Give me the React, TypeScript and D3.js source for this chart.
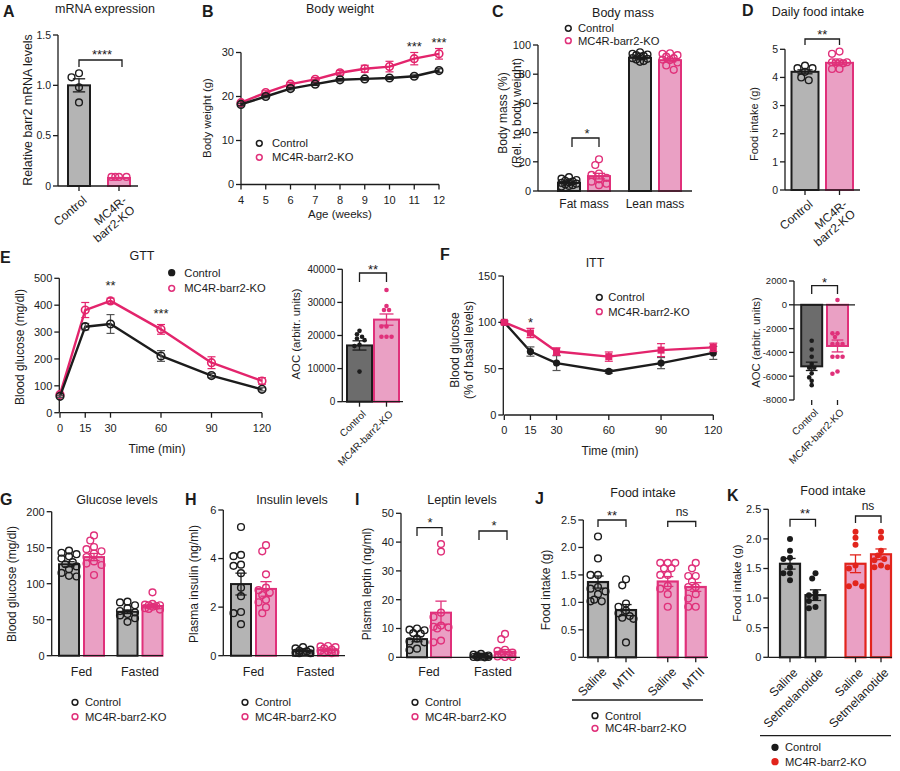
import * as d3 from "d3";

const FONT = "'Liberation Sans', Arial, Helvetica, sans-serif";
const INK = "#1c1c1c";
const GREY = "#b4b4b4";
const DARK = "#6c6c6c";
const PINK = "#e0307a";
const PINK_FILL = "#eaa0c4";
const PINK_LINE = "#e3246c";
const RED = "#e2241c";

const groupNames = ["Control", "MC4R-barr2-KO"];

// A: barr2 mRNA
const aTicks = [0, 0.5, 1.0, 1.5];
const aMean = [1.0, 0.08];
const aSem = [0.065, 0.004];
const aCtrlDots = [1.12, 1.08, 0.98, 0.83];
const aKoDots = [0.09, 0.09, 0.09, 0.09];

// B: body weight by week
const bWeeks = [4, 5, 6, 7, 8, 9, 10, 11, 12];
const bTicks = [0, 10, 20, 30];
const bCtrl = [18.2, 20.0, 21.8, 22.8, 23.8, 24.0, 24.2, 24.6, 25.9];
const bCtrlSem = [0.3, 0.3, 0.3, 0.3, 0.3, 0.3, 0.3, 0.3, 0.4];
const bKo = [18.6, 20.9, 22.8, 23.9, 25.4, 26.3, 26.8, 28.6, 29.7];
const bKoSem = [0.3, 0.4, 0.4, 0.4, 0.5, 0.8, 1.2, 1.4, 1.2];
const bStarWeeks = [11, 12];

// C: body composition
const cGroups = ["Fat mass", "Lean mass"];
const cTicks = [0, 20, 40, 60, 80, 100];
const cCtrlMean = [5.6, 91.2];
const cCtrlSem = [0.5, 0.6];
const cKoMean = [10.2, 89.6];
const cKoSem = [1.9, 1.2];
const cCtrlDots = [
  [9.5, 8.5, 7.5, 7, 6.5, 6, 5.5, 5, 4.5, 4, 3.5, 3],
  [95, 94, 93.5, 93, 92.5, 92, 91, 90.5, 90, 89, 88.5],
];
const cKoDots = [
  [21.7, 17.8, 12, 11, 9, 8, 6.4, 5, 4],
  [94.3, 94, 93, 92, 91, 90, 89.7, 88, 86, 83],
];

// D: daily food intake
const dTicks = [0, 1, 2, 3, 4, 5];
const dMean = [4.2, 4.52];
const dSem = [0.07, 0.07];
const dCtrlDots = [4.42, 4.33, 4.33, 4.2, 4.0, 3.9];
const dKoDots = [4.92, 4.84, 4.54, 4.54, 4.54, 4.54, 4.5, 4.3, 4.3];

// E: GTT
const gttTimes = [0, 15, 30, 60, 90, 120];
const gttTicks = [0, 100, 200, 300, 400, 500];
const gttCtrl = [61, 320, 330, 211, 138, 87];
const gttCtrlSem = [4, 12, 35, 20, 8, 6];
const gttKo = [68, 382, 416, 310, 186, 118];
const gttKoSem = [4, 28, 10, 18, 22, 12];
const gttStars = [
  { t: 30, label: "**" },
  { t: 60, label: "***" },
];
const eAocTicks = [0, 10000, 20000, 30000, 40000];
const eAocMean = [17000, 24800];
const eAocSem = [1400, 1700];
const eAocCtrlDots = [21400, 20400, 19600, 19100, 18600, 17200, 16800, 9100];
const eAocKoDots = [33750, 28900, 27700, 27700, 22700, 22700, 19600, 19600, 19600];

// F: ITT
const ittTicks = [0, 50, 100, 150];
const ittCtrl = [100, 68.5, 56, 47, 56, 67];
const ittCtrlSem = [1.5, 5, 8, 2, 6, 7];
const ittKo = [100, 88.5, 68.5, 63, 70, 73];
const ittKoSem = [1.5, 5, 4, 5, 7, 4.5];
const fAocTicks = [-8000, -6000, -4000, -2000, 0, 2000];
const fAocMean = [-5170, -3460];
const fAocSem = [350, 500];
const fAocCtrlDots = [-3025, -3750, -4370, -4980, -5290, -5290, -5760, -6100, -6390, -6750];
const fAocKoDots = [400, -2400, -2400, -2700, -3300, -3300, -3300, -4370, -4370, -4370, -5600, -5800];

// G, H, I: fed / fasted
const fedGroups = ["Fed", "Fasted"];
const gTicks = [0, 50, 100, 150, 200];
const gCtrlMean = [127, 61];
const gCtrlSem = [3.5, 2.5];
const gKoMean = [137, 69];
const gKoSem = [5, 2];
const gCtrlDots = [
  [146, 143, 141, 138, 135, 130, 127, 124, 120, 115, 111, 110],
  [75, 74, 70, 66, 62, 60, 58, 56, 52, 47],
];
const gKoDots = [
  [167, 160, 151, 148, 145, 142, 137, 131, 128, 126, 112],
  [88, 72, 71, 70, 70, 69, 68, 66, 65, 64],
];

const hTicks = [0, 2, 4, 6];
const hCtrlMean = [2.95, 0.19];
const hCtrlSem = [0.45, 0.03];
const hKoMean = [2.75, 0.24];
const hKoSem = [0.3, 0.03];
const hCtrlDots = [
  [5.3, 4.15, 4.1, 3.75, 3.7, 3.4, 2.8, 2.45, 1.8, 1.75, 1.3],
  [0.35, 0.3, 0.25, 0.2, 0.18, 0.15, 0.12, 0.1, 0.1],
];
const hKoDots = [
  [4.55, 4.3, 3.35, 2.8, 2.7, 2.6, 2.5, 2.3, 2.2, 2.0, 1.75],
  [0.4, 0.38, 0.35, 0.3, 0.25, 0.2, 0.18, 0.15, 0.12, 0.1],
];

const iTicks = [0, 10, 20, 30, 40, 50];
const iCtrlMean = [6.3, 0.4];
const iCtrlSem = [0.9, 0.1];
const iKoMean = [15.5, 1.9];
const iKoSem = [4.0, 0.8];
const iCtrlDots = [
  [10, 9.6, 9.4, 8.4, 8.2, 6.5, 5.5, 5.2, 3, 2.5],
  [1.2, 0.9, 0.6, 0.5, 0.3, 0.2, 0.1, 0.1, 0.05, 0],
];
const iKoDots = [
  [39.3, 36.7, 15.5, 14, 11, 10.6, 10.4, 10, 5.8, 5.2],
  [8.1, 6.3, 2.6, 2.2, 1.6, 1.2, 0.8, 0.3, 0.1, 0.1],
];

// J, K: acute food intake
const intakeTicks = [0, 0.5, 1.0, 1.5, 2.0, 2.5];
const jTreat = ["Saline", "MTII"];
const jCtrlMean = [1.37, 0.86];
const jCtrlSem = [0.11, 0.1];
const jKoMean = [1.38, 1.28];
const jKoSem = [0.09, 0.08];
const jCtrlDots = [
  [2.2, 1.8, 1.5, 1.5, 1.28, 1.25, 1.2, 1.15, 1.05, 1.02, 1.02],
  [1.42, 1.31, 0.98, 0.92, 0.85, 0.8, 0.75, 0.72, 0.7, 0.27],
];
const jKoDots = [
  [1.72, 1.72, 1.72, 1.62, 1.62, 1.5, 1.5, 1.3, 1.25, 1.15, 0.92],
  [1.72, 1.62, 1.48, 1.48, 1.38, 1.28, 1.28, 1.15, 1.07, 0.92, 0.92],
];

const kTreat = ["Saline", "Setmelanotide"];
const kCtrlMean = [1.58, 1.05];
const kCtrlSem = [0.09, 0.09];
const kKoMean = [1.58, 1.74];
const kKoSem = [0.15, 0.09];
const kCtrlDots = [
  [2.0, 1.8, 1.68, 1.66, 1.52, 1.42, 1.42, 1.3],
  [1.42, 1.33, 1.1, 1.05, 1.0, 0.95, 0.85, 0.83],
];
const kKoDots = [
  [2.12, 2.02, 1.9, 1.55, 1.5, 1.25, 1.2, 1.2],
  [2.12, 2.02, 1.8, 1.72, 1.66, 1.64, 1.55, 1.52, 1.52],
];

type Scale = d3.ScaleLinear<number, number>;
type Look = { fill: string; edge: string; dot: string; solid: boolean; r: number };

const CTRL: Look = { fill: GREY, edge: INK, dot: INK, solid: false, r: 3.4 };
const KO: Look = { fill: PINK_FILL, edge: PINK, dot: PINK, solid: false, r: 3.4 };
const CTRL_DARK: Look = { fill: DARK, edge: INK, dot: INK, solid: true, r: 2.3 };
const KO_SMALL: Look = { fill: PINK_FILL, edge: PINK, dot: PINK, solid: true, r: 2.3 };
const CTRL_SOLID: Look = { fill: GREY, edge: INK, dot: INK, solid: true, r: 3 };
const KO_RED: Look = { fill: PINK_FILL, edge: RED, dot: RED, solid: true, r: 3 };

const f1 = (v: number) => (v === 0 ? "0" : v.toFixed(1));

// spread points sideways so they don't sit on top of each other
function swarm(vals: number[], y: Scale, r: number, half: number): number[] {
  const placed: [number, number][] = [];
  const step = r * 1.1;
  const cands = [0];
  for (let k = 1; k * step <= half + 0.01; k++) cands.push(-k * step, k * step);
  return vals.map((v) => {
    const py = y(v);
    let best = 0;
    let bestD = -1;
    for (const c of cands) {
      let dmin = Infinity;
      for (const [px, qy] of placed) dmin = Math.min(dmin, Math.hypot(px - c, qy - py));
      if (dmin >= 2 * r * 0.9) {
        best = c;
        break;
      }
      if (dmin > bestD) {
        bestD = dmin;
        best = c;
      }
    }
    placed.push([best, py]);
    return best;
  });
}

function Letter({ x, y, t }: { x: number; y: number; t: string }) {
  return (
    <text x={x} y={y + 5.7} fontSize={16} fontWeight="bold">
      {t}
    </text>
  );
}

function Title({ x, y, t }: { x: number; y: number; t: string }) {
  return (
    <text x={x} y={y} dy="0.35em" textAnchor="middle" fontSize={12.5}>
      {t}
    </text>
  );
}

function YLabel({ x, y, lines, fs = 12 }: { x: number; y: number; lines: string[]; fs?: number }) {
  const off = ((lines.length - 1) / 2) * 1.15;
  return (
    <text transform={`translate(${x},${y}) rotate(-90)`} textAnchor="middle" fontSize={fs}>
      {lines.map((l, i) => (
        <tspan key={i} x={0} dy={i === 0 ? `${0.35 - off}em` : "1.15em"}>
          {l}
        </tspan>
      ))}
    </text>
  );
}

function Star({ x, y, t, fs = 13 }: { x: number; y: number; t: string; fs?: number }) {
  return (
    <text x={x} y={y + 0.56 * fs} textAnchor="middle" fontSize={fs}>
      {t}
    </text>
  );
}

function NS({ x, y }: { x: number; y: number }) {
  return (
    <text x={x} y={y + 3.4} textAnchor="middle" fontSize={12}>
      ns
    </text>
  );
}

function Bracket({ x1, x2, top, bottom }: { x1: number; x2: number; top: number; bottom: number }) {
  return <path d={`M${x1},${bottom}V${top}H${x2}V${bottom}`} fill="none" stroke={INK} strokeWidth={1.3} />;
}

function YAxis({ x, y, ticks, fmt = (v: number) => String(v), fs = 10.5 }: { x: number; y: Scale; ticks: number[]; fmt?: (v: number) => string; fs?: number }) {
  const [d0, d1] = y.domain();
  return (
    <g>
      <line x1={x} x2={x} y1={y(d0)} y2={y(d1)} stroke={INK} strokeWidth={1.3} />
      {ticks.map((t) => (
        <g key={t}>
          <line x1={x - 5} x2={x} y1={y(t)} y2={y(t)} stroke={INK} strokeWidth={1.3} />
          <text x={x - 7} y={y(t)} dy="0.35em" textAnchor="end" fontSize={fs}>
            {fmt(t)}
          </text>
        </g>
      ))}
    </g>
  );
}

function HLine({ x1, x2, y }: { x1: number; x2: number; y: number }) {
  return <line x1={x1} x2={x2} y1={y} y2={y} stroke={INK} strokeWidth={1.3} />;
}

function XTicks({ xs, y }: { xs: number[]; y: number }) {
  return (
    <g stroke={INK} strokeWidth={1.3}>
      {xs.map((x, i) => (
        <line key={i} x1={x} x2={x} y1={y} y2={y + 5} />
      ))}
    </g>
  );
}

function XAxis({ x, y0, ticks }: { x: Scale; y0: number; ticks: number[] }) {
  const [d0, d1] = x.domain();
  return (
    <g>
      <line x1={x(d0)} x2={x(d1)} y1={y0} y2={y0} stroke={INK} strokeWidth={1.3} />
      {ticks.map((t) => (
        <g key={t}>
          <line x1={x(t)} x2={x(t)} y1={y0} y2={y0 + 5} stroke={INK} strokeWidth={1.3} />
          <text x={x(t)} y={y0 + 19} textAnchor="middle" fontSize={11}>
            {t}
          </text>
        </g>
      ))}
    </g>
  );
}

function RotLabel({ x, y, lines, angle = -40, fs = 12 }: { x: number; y: number; lines: string[]; angle?: number; fs?: number }) {
  return (
    <text transform={`translate(${x},${y}) rotate(${angle})`} textAnchor="end" fontSize={fs}>
      {lines.map((l, i) => (
        <tspan key={i} x={0} dy={i === 0 ? "0.72em" : "1.05em"}>
          {l}
        </tspan>
      ))}
    </text>
  );
}

type LegendItem = { label: string; color: string; solid: boolean };

function Legend({ x, y, gap, dx, items }: { x: number; y: number; gap: number; dx: number; items: LegendItem[] }) {
  return (
    <g>
      {items.map((it, i) => (
        <g key={i}>
          <circle cx={x} cy={y + i * gap} r={2.9} fill={it.solid ? it.color : "#fff"} stroke={it.color} strokeWidth={1.5} />
          <text x={x + dx} y={y + i * gap} dy="0.35em" fontSize={11.2}>
            {it.label}
          </text>
        </g>
      ))}
    </g>
  );
}

const openItems: LegendItem[] = [
  { label: groupNames[0], color: INK, solid: false },
  { label: groupNames[1], color: PINK, solid: false },
];

function BarMark({ cx, w, y, mean, sem, dots, look, sw = 2 }: { cx: number; w: number; y: Scale; mean: number; sem: number; dots: number[]; look: Look; sw?: number }) {
  const base = y(0);
  const top = y(mean);
  const offs = swarm(dots, y, look.r, w / 2 - 1);
  const cap = w * 0.28;
  return (
    <g>
      <rect x={cx - w / 2} y={Math.min(base, top)} width={w} height={Math.abs(base - top)} fill={look.fill} stroke={look.edge} strokeWidth={sw} />
      {dots.map((v, i) => (
        <circle
          key={i}
          cx={cx + offs[i]}
          cy={y(v)}
          r={look.r}
          fill={look.solid ? look.dot : "none"}
          stroke={look.solid ? "none" : look.dot}
          strokeWidth={1.4}
        />
      ))}
      <g stroke={look.edge} strokeWidth={1.3}>
        <line x1={cx} x2={cx} y1={y(mean - sem)} y2={y(mean + sem)} />
        <line x1={cx - cap} x2={cx + cap} y1={y(mean + sem)} y2={y(mean + sem)} />
        <line x1={cx - cap} x2={cx + cap} y1={y(mean - sem)} y2={y(mean - sem)} />
      </g>
    </g>
  );
}

function Series({ x, y, xs, ys, sem, color, errColor, marker }: { x: Scale; y: Scale; xs: number[]; ys: number[]; sem: number[]; color: string; errColor: string; marker: string }) {
  const path = d3
    .line<number>()
    .x((_, i) => x(xs[i]))
    .y((v) => y(v))(ys) ?? "";
  return (
    <g>
      <path d={path} fill="none" stroke={color} strokeWidth={2.4} strokeLinejoin="round" />
      <g stroke={errColor} strokeWidth={1.2}>
        {ys.map((v, i) => (
          <g key={i}>
            <line x1={x(xs[i])} x2={x(xs[i])} y1={y(v - sem[i])} y2={y(v + sem[i])} />
            <line x1={x(xs[i]) - 4} x2={x(xs[i]) + 4} y1={y(v + sem[i])} y2={y(v + sem[i])} />
            <line x1={x(xs[i]) - 4} x2={x(xs[i]) + 4} y1={y(v - sem[i])} y2={y(v - sem[i])} />
          </g>
        ))}
      </g>
      {ys.map((v, i) =>
        marker === "square" ? (
          <rect key={i} x={x(xs[i]) - 3.5} y={y(v) - 3.5} width={7} height={7} fill={color} />
        ) : marker === "dot" ? (
          <circle key={i} cx={x(xs[i])} cy={y(v)} r={3.6} fill={color} />
        ) : (
          <circle key={i} cx={x(xs[i])} cy={y(v)} r={3.8} fill="none" stroke={color} strokeWidth={1.6} />
        )
      )}
    </g>
  );
}

function PanelA() {
  const y = d3.scaleLinear().domain([0, 1.5]).range([186, 35]);
  const x = d3.scalePoint<string>().domain(groupNames).range([79, 119]);
  const x0 = x(groupNames[0])!;
  const x1 = x(groupNames[1])!;
  return (
    <g>
      <Letter x={3} y={11} t="A" />
      <Title x={105} y={9} t="mRNA expression" />
      <YLabel x={28} y={110} lines={["Relative barr2 mRNA levels"]} fs={12.4} />
      <BarMark cx={x0} w={22} y={y} mean={aMean[0]} sem={aSem[0]} dots={aCtrlDots} look={CTRL} />
      <BarMark cx={x1} w={22} y={y} mean={aMean[1]} sem={aSem[1]} dots={aKoDots} look={KO} />
      <YAxis x={58} y={y} ticks={aTicks} fmt={f1} />
      <HLine x1={58} x2={138} y={y(0)} />
      <XTicks xs={[x0, x1]} y={y(0)} />
      <RotLabel x={x0 + 3} y={y(0) + 9} lines={["Control"]} />
      <RotLabel x={x1 + 3} y={y(0) + 9} lines={["MC4R-", "barr2-KO"]} />
      <Bracket x1={x0} x2={x1 + 3} top={60} bottom={67} />
      <Star x={102} y={52} t="****" />
    </g>
  );
}

function PanelB() {
  const x = d3.scaleLinear().domain([4, 12]).range([241, 439]);
  const y = d3.scaleLinear().domain([0, 30]).range([184.5, 52.5]);
  return (
    <g>
      <Letter x={202} y={11} t="B" />
      <Title x={340} y={9} t="Body weight" />
      <YLabel x={207} y={118} lines={["Body weight (g)"]} fs={11.5} />
      <YAxis x={x(4)} y={y} ticks={bTicks} fs={11} />
      <XAxis x={x} y0={y(0)} ticks={bWeeks} />
      <text x={340} y={217.5} textAnchor="middle" fontSize={11.5}>
        Age (weeks)
      </text>
      <Series x={x} y={y} xs={bWeeks} ys={bKo} sem={bKoSem} color={PINK_LINE} errColor={PINK_LINE} marker="open" />
      <Series x={x} y={y} xs={bWeeks} ys={bCtrl} sem={bCtrlSem} color={INK} errColor={INK} marker="open" />
      {bStarWeeks.map((w) => {
        const i = bWeeks.indexOf(w);
        return <Star key={w} x={x(w)} y={y(bKo[i] + bKoSem[i]) - 9} t="***" />;
      })}
      <Legend x={259.3} y={143.3} gap={14} dx={12.7} items={openItems} />
    </g>
  );
}

function PanelC() {
  const y = d3.scaleLinear().domain([0, 100]).range([191, 45]);
  const g = d3.scalePoint<string>().domain(cGroups).range([584, 655]);
  return (
    <g>
      <Letter x={492} y={11} t="C" />
      <Title x={623} y={13} t="Body mass" />
      <Legend x={568.3} y={28.3} gap={12.4} dx={9.7} items={openItems} />
      <YLabel x={510} y={113} lines={["Body mass (%)", "(Rel. to body weight)"]} fs={12} />
      {cGroups.map((k, i) => (
        <g key={k}>
          <BarMark cx={g(k)! - 15} w={22} y={y} mean={cCtrlMean[i]} sem={cCtrlSem[i]} dots={cCtrlDots[i]} look={CTRL} />
          <BarMark cx={g(k)! + 15} w={22} y={y} mean={cKoMean[i]} sem={cKoSem[i]} dots={cKoDots[i]} look={KO} />
          <text x={g(k)!} y={207.5} textAnchor="middle" fontSize={12}>
            {k}
          </text>
        </g>
      ))}
      <YAxis x={538} y={y} ticks={cTicks} fs={11} />
      <HLine x1={538} x2={692} y={y(0)} />
      <Bracket x1={g(cGroups[0])! - 12} x2={g(cGroups[0])! + 15} top={138} bottom={147} />
      <Star x={587} y={131} t="*" />
    </g>
  );
}

function PanelD() {
  const y = d3.scaleLinear().domain([0, 5]).range([190, 49.3]);
  const x = d3.scalePoint<string>().domain(groupNames).range([805, 839.5]);
  const x0 = x(groupNames[0])!;
  const x1 = x(groupNames[1])!;
  return (
    <g>
      <Letter x={742} y={10} t="D" />
      <Title x={818} y={12} t="Daily food intake" />
      <YLabel x={754} y={124} lines={["Food intake (g)"]} fs={11} />
      <BarMark cx={x0} w={27} y={y} mean={dMean[0]} sem={dSem[0]} dots={dCtrlDots} look={CTRL} />
      <BarMark cx={x1} w={27} y={y} mean={dMean[1]} sem={dSem[1]} dots={dKoDots} look={KO} />
      <YAxis x={785} y={y} ticks={dTicks} fs={10.5} />
      <HLine x1={785} x2={860} y={y(0)} />
      <XTicks xs={[x0, x1]} y={y(0)} />
      <RotLabel x={x0 + 3} y={y(0) + 9} lines={["Control"]} />
      <RotLabel x={x1 + 3} y={y(0) + 9} lines={["MC4R-", "barr2-KO"]} />
      <Bracket x1={x0} x2={x1} top={39} bottom={45} />
      <Star x={(x0 + x1) / 2} y={32} t="**" />
    </g>
  );
}

function PanelE() {
  const x = d3.scaleLinear().domain([0, 120]).range([60, 262]);
  const y = d3.scaleLinear().domain([0, 500]).range([412.7, 278.3]);
  const ya = d3.scaleLinear().domain([0, 40000]).range([401.7, 269.3]);
  const xa = d3.scalePoint<string>().domain(groupNames).range([359.5, 386.5]);
  const a0 = xa(groupNames[0])!;
  const a1 = xa(groupNames[1])!;
  return (
    <g>
      <Letter x={0} y={257} t="E" />
      <Title x={142} y={256} t="GTT" />
      <YLabel x={20} y={347} lines={["Blood glucose (mg/dl)"]} fs={12} />
      <YAxis x={x(0) - 0.7} y={y} ticks={gttTicks} fs={11} />
      <XAxis x={x} y0={y(0)} ticks={gttTimes} />
      <text x={157} y={452.6} textAnchor="middle" fontSize={12}>
        Time (min)
      </text>
      <Series x={x} y={y} xs={gttTimes} ys={gttKo} sem={gttKoSem} color={PINK_LINE} errColor={PINK_LINE} marker="open" />
      <Series x={x} y={y} xs={gttTimes} ys={gttCtrl} sem={gttCtrlSem} color={INK} errColor="#555" marker="open" />
      {gttStars.map((s) => {
        const i = gttTimes.indexOf(s.t);
        return <Star key={s.t} x={x(s.t)} y={y(gttKo[i] + gttKoSem[i]) - (s.t === 30 ? 15 : 14)} t={s.label} />;
      })}
      <Legend
        x={171.7}
        y={272.7}
        gap={15.6}
        dx={12.6}
        items={[
          { label: groupNames[0], color: INK, solid: true },
          { label: groupNames[1], color: PINK, solid: false },
        ]}
      />

      <YLabel x={296} y={334} lines={["AOC (arbitr. units)"]} fs={11.4} />
      <BarMark cx={a0} w={25} y={ya} mean={eAocMean[0]} sem={eAocSem[0]} dots={eAocCtrlDots} look={CTRL_DARK} />
      <BarMark cx={a1} w={25} y={ya} mean={eAocMean[1]} sem={eAocSem[1]} dots={eAocKoDots} look={KO_SMALL} />
      <YAxis x={342.3} y={ya} ticks={eAocTicks} fs={10} />
      <HLine x1={342.3} x2={403} y={ya(0)} />
      <XTicks xs={[a0, a1]} y={ya(0)} />
      <RotLabel x={a0 + 2} y={ya(0) + 8} lines={[groupNames[0]]} angle={-45} fs={10} />
      <RotLabel x={a1 + 2} y={ya(0) + 8} lines={[groupNames[1]]} angle={-45} fs={10} />
      <Bracket x1={a0} x2={a1} top={273} bottom={282} />
      <Star x={(a0 + a1) / 2} y={267} t="**" />
    </g>
  );
}

function PanelF() {
  const x = d3.scaleLinear().domain([0, 120]).range([504.3, 713.3]);
  const y = d3.scaleLinear().domain([0, 150]).range([415, 276]);
  const ya = d3.scaleLinear().domain([-8000, 2000]).range([400, 281]);
  const xa = d3.scalePoint<string>().domain(groupNames).range([811.7, 837.5]);
  const a0 = xa(groupNames[0])!;
  const a1 = xa(groupNames[1])!;
  return (
    <g>
      <Letter x={440} y={254.5} t="F" />
      <Title x={595} y={263} t="ITT" />
      <YLabel x={462} y={350} lines={["Blood glucose", "(% of basal levels)"]} fs={12} />
      <YAxis x={x(0) - 1} y={y} ticks={ittTicks} fs={11} />
      <XAxis x={x} y0={y(0)} ticks={gttTimes} />
      <text x={610} y={455} textAnchor="middle" fontSize={12}>
        Time (min)
      </text>
      <Series x={x} y={y} xs={gttTimes} ys={ittCtrl} sem={ittCtrlSem} color={INK} errColor="#555" marker="dot" />
      <Series x={x} y={y} xs={gttTimes} ys={ittKo} sem={ittKoSem} color={PINK_LINE} errColor={PINK_LINE} marker="square" />
      <Star x={x(15)} y={319.5} t="*" />
      <Legend x={599.3} y={297.3} gap={14.4} dx={9} items={openItems} />

      <YLabel x={756} y={342.5} lines={["AOC (arbitr. units)"]} fs={11.3} />
      <BarMark cx={a0} w={21} y={ya} mean={fAocMean[0]} sem={fAocSem[0]} dots={fAocCtrlDots} look={CTRL_DARK} />
      <BarMark cx={a1} w={21} y={ya} mean={fAocMean[1]} sem={fAocSem[1]} dots={fAocKoDots} look={KO_SMALL} />
      <YAxis x={794} y={ya} ticks={fAocTicks} fs={9.5} />
      <HLine x1={794} x2={855} y={ya(0)} />
      <XTicks xs={[a0, a1]} y={ya(-8000)} />
      <RotLabel x={a0 + 2} y={ya(-8000) + 8} lines={[groupNames[0]]} angle={-45} fs={10} />
      <RotLabel x={a1 + 2} y={ya(-8000) + 8} lines={[groupNames[1]]} angle={-45} fs={10} />
      <Bracket x1={a0} x2={a1} top={285.7} bottom={294} />
      <Star x={(a0 + a1) / 2} y={279.5} t="*" />
    </g>
  );
}

type FedProps = {
  letter: string;
  lx: number;
  title: string;
  tx: number;
  ylabel: string;
  ylx: number;
  y: Scale;
  ticks: number[];
  axisX: number;
  axisEnd: number;
  centers: [number, number];
  off: number;
  ctrlMean: number[];
  ctrlSem: number[];
  koMean: number[];
  koSem: number[];
  ctrlDots: number[][];
  koDots: number[][];
  legX: number;
};

function FedPanel(p: FedProps) {
  const g = d3.scalePoint<string>().domain(fedGroups).range(p.centers);
  return (
    <g>
      <Letter x={p.lx} y={499} t={p.letter} />
      <Title x={p.tx} y={500} t={p.title} />
      <YLabel x={p.ylx} y={584} lines={[p.ylabel]} fs={12} />
      {fedGroups.map((k, i) => (
        <g key={k}>
          <BarMark cx={g(k)! - p.off} w={20} y={p.y} mean={p.ctrlMean[i]} sem={p.ctrlSem[i]} dots={p.ctrlDots[i]} look={CTRL} />
          <BarMark cx={g(k)! + p.off} w={20} y={p.y} mean={p.koMean[i]} sem={p.koSem[i]} dots={p.koDots[i]} look={KO} />
          <text x={g(k)!} y={676} textAnchor="middle" fontSize={12.4}>
            {k}
          </text>
        </g>
      ))}
      <YAxis x={p.axisX} y={p.y} ticks={p.ticks} fs={11} />
      <HLine x1={p.axisX} x2={p.axisEnd} y={p.y(0)} />
      <Legend x={p.legX} y={702.3} gap={14.4} dx={10} items={openItems} />
    </g>
  );
}

function PanelJ() {
  const y = d3.scaleLinear().domain([0, 2.5]).range([657.3, 520]);
  const g = d3.scalePoint<string>().domain(groupNames).range([612, 681.75]);
  const looks = [CTRL, KO];
  const means = [jCtrlMean, jKoMean];
  const sems = [jCtrlSem, jKoSem];
  const dots = [jCtrlDots, jKoDots];
  const cx = (gi: number, ti: number) => g(groupNames[gi])! + (ti === 0 ? -14 : 14);
  return (
    <g>
      <Letter x={535} y={498} t="J" />
      <Title x={643} y={493} t="Food intake" />
      <YLabel x={546} y={590} lines={["Food intake (g)"]} fs={12} />
      {groupNames.map((_, gi) =>
        jTreat.map((t, ti) => (
          <g key={`${gi}${ti}`}>
            <BarMark cx={cx(gi, ti)} w={20} y={y} mean={means[gi][ti]} sem={sems[gi][ti]} dots={dots[gi][ti]} look={looks[gi]} sw={2.2} />
            <RotLabel x={cx(gi, ti) + 3} y={y(0) + 9} lines={[t]} angle={-45} fs={12.4} />
          </g>
        ))
      )}
      <YAxis x={583.3} y={y} ticks={intakeTicks} fmt={f1} fs={11} />
      <HLine x1={583.3} x2={708} y={y(0)} />
      <XTicks xs={[cx(0, 0), cx(0, 1), cx(1, 0), cx(1, 1)]} y={y(0)} />
      <Bracket x1={cx(0, 0)} x2={cx(0, 1)} top={520} bottom={527} />
      <Star x={612} y={513} t="**" />
      <Bracket x1={cx(1, 0)} x2={cx(1, 1)} top={521.5} bottom={527} />
      <NS x={682} y={513} />
      <HLine x1={572} x2={703} y={700} />
      <Legend x={595} y={715.7} gap={12.6} dx={10} items={openItems} />
    </g>
  );
}

function PanelK() {
  const y = d3.scaleLinear().domain([0, 2.5]).range([657.3, 509.3]);
  const g = d3.scalePoint<string>().domain(groupNames).range([802.75, 868.25]);
  const looks = [CTRL_SOLID, KO_RED];
  const means = [kCtrlMean, kKoMean];
  const sems = [kCtrlSem, kKoSem];
  const dots = [kCtrlDots, kKoDots];
  const cx = (gi: number, ti: number) => g(groupNames[gi])! + (ti === 0 ? -12.75 : 12.75);
  return (
    <g>
      <Letter x={727} y={495} t="K" />
      <Title x={833} y={491} t="Food intake" />
      <YLabel x={736.5} y={583} lines={["Food intake (g)"]} fs={11.5} />
      {groupNames.map((_, gi) =>
        kTreat.map((t, ti) => (
          <g key={`${gi}${ti}`}>
            <BarMark cx={cx(gi, ti)} w={20} y={y} mean={means[gi][ti]} sem={sems[gi][ti]} dots={dots[gi][ti]} look={looks[gi]} sw={2.2} />
            <RotLabel x={cx(gi, ti) + 2} y={y(0) + 10} lines={[t]} angle={-45} fs={12.2} />
          </g>
        ))
      )}
      <YAxis x={768.3} y={y} ticks={intakeTicks} fmt={f1} fs={11} />
      <HLine x1={768.3} x2={892} y={y(0)} />
      <XTicks xs={[cx(0, 0), cx(0, 1), cx(1, 0), cx(1, 1)]} y={y(0)} />
      <Bracket x1={cx(0, 0)} x2={cx(0, 1)} top={519.3} bottom={526.7} />
      <Star x={805} y={510.5} t="**" />
      <Bracket x1={cx(1, 0)} x2={cx(1, 1)} top={516} bottom={523} />
      <NS x={868} y={506.5} />
      <HLine x1={760} x2={891} y={735.7} />
      <Legend
        x={775}
        y={747.3}
        gap={14.4}
        dx={10}
        items={[
          { label: groupNames[0], color: INK, solid: true },
          { label: groupNames[1], color: RED, solid: true },
        ]}
      />
    </g>
  );
}

export default function App() {
  const yG = d3.scaleLinear().domain([0, 200]).range([655.7, 511.7]);
  const yH = d3.scaleLinear().domain([0, 6]).range([655.7, 510]);
  const yI = d3.scaleLinear().domain([0, 50]).range([657.3, 513.3]);
  return (
    <svg
      width={900}
      height={771}
      viewBox="0 0 900 771"
      style={{ position: "absolute", left: 0, top: 0, background: "#fff" }}
      fontFamily={FONT}
      fill={INK}
    >
      <rect width={900} height={771} fill="#fff" />
      <PanelA />
      <PanelB />
      <PanelC />
      <PanelD />
      <PanelE />
      <PanelF />
      <FedPanel
        letter="G"
        lx={0}
        title="Glucose levels"
        tx={117}
        ylabel="Blood glucose (mg/dl)"
        ylx={12}
        y={yG}
        ticks={gTicks}
        axisX={51.7}
        axisEnd={163}
        centers={[81.5, 140]}
        off={12.5}
        ctrlMean={gCtrlMean}
        ctrlSem={gCtrlSem}
        koMean={gKoMean}
        koSem={gKoSem}
        ctrlDots={gCtrlDots}
        koDots={gKoDots}
        legX={75}
      />
      <FedPanel
        letter="H"
        lx={185}
        title="Insulin levels"
        tx={292}
        ylabel="Plasma insulin (ng/ml)"
        ylx={194}
        y={yH}
        ticks={hTicks}
        axisX={223.3}
        axisEnd={345}
        centers={[253.5, 315.5]}
        off={12.5}
        ctrlMean={hCtrlMean}
        ctrlSem={hCtrlSem}
        koMean={hKoMean}
        koSem={hKoSem}
        ctrlDots={hCtrlDots}
        koDots={hKoDots}
        legX={245}
      />
      <FedPanel
        letter="I"
        lx={355}
        title="Leptin levels"
        tx={462}
        ylabel="Plasma leptin (ng/ml)"
        ylx={367}
        y={yI}
        ticks={iTicks}
        axisX={401}
        axisEnd={520}
        centers={[429, 493]}
        off={12}
        ctrlMean={iCtrlMean}
        ctrlSem={iCtrlSem}
        koMean={iKoMean}
        koSem={iKoSem}
        ctrlDots={iCtrlDots}
        koDots={iKoDots}
        legX={415}
      />
      <Bracket x1={417} x2={442} top={527.7} bottom={536} />
      <Star x={430} y={520} t="*" />
      <Bracket x1={479} x2={507} top={531} bottom={540} />
      <Star x={494} y={522.5} t="*" />
      <PanelJ />
      <PanelK />
    </svg>
  );
}
